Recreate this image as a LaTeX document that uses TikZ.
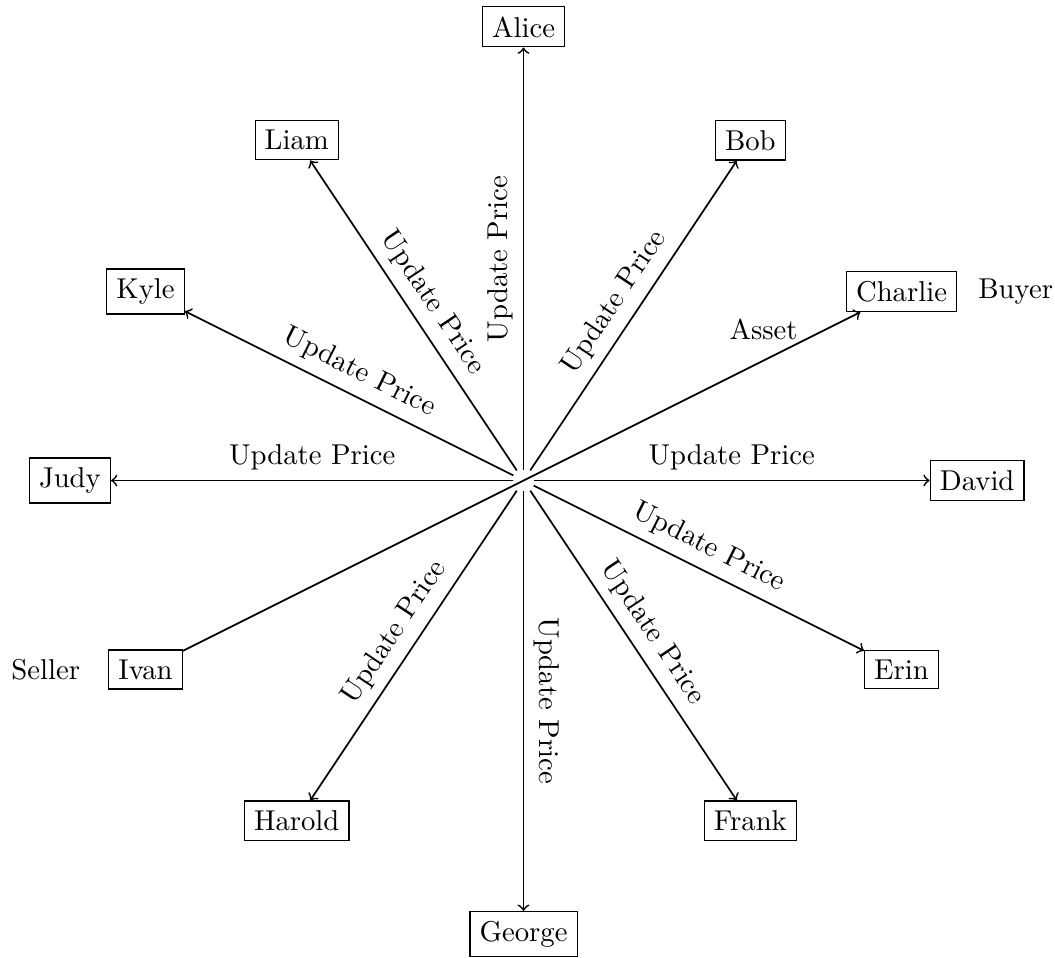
\documentclass[tikz,border=0pt]{standalone}
\begin{document}
\begin{tikzpicture}[x=0.9258cm, y=0.9258cm,
  person/.style={draw, rectangle},
  lbl/.style={midway, sloped, above},
  arr/.style={->, semithick}]
\useasboundingbox (-6.925,-6.303) rectangle (7.03,6.356);
\node (c) at (0,0) {};
\node[person] (alice)   at (0,6)      {Alice};
\node[person] (bob)     at (3,4.5)    {Bob};
\node[person] (charlie) at (5,2.5)    {Charlie};
\node[person] (david)   at (6,0)      {David};
\node[person] (erin)    at (5,-2.5)   {Erin};
\node[person] (frank)   at (3,-4.5)   {Frank};
\node[person] (george)  at (0,-6)     {George};
\node[person] (harold)  at (-3,-4.5)  {Harold};
\node[person] (ivan)    at (-5,-2.5)  {Ivan};
\node[person] (judy)    at (-6,0)     {Judy};
\node[person] (kyle)    at (-5,2.5)   {Kyle};
\node[person] (liam)    at (-3,4.5)   {Liam};
\node (buyer)  at (6.51,2.5)   {Buyer};
\node (seller) at (-6.32,-2.5) {Seller};
\foreach \n in {alice,bob,david,erin,frank,george,harold,judy,kyle,liam}
  \draw[arr] (c) -- (\n) node[lbl] {Update Price};
\draw[arr] (ivan) -- (charlie) node[pos=0.857, above, yshift=3.45pt] {Asset};
\end{tikzpicture}
\end{document}
